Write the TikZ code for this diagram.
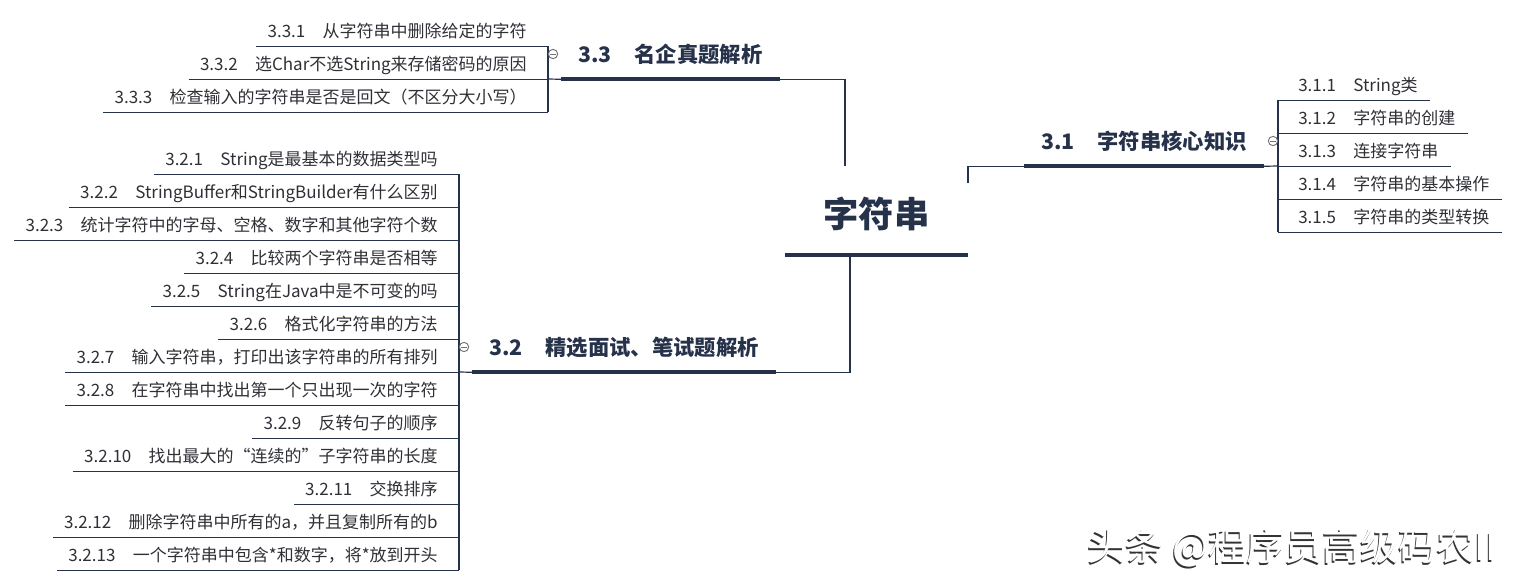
\documentclass[tikz,border=0pt]{standalone}
\usepackage{fontspec}
\setmainfont{Noto Sans CJK SC}
\usetikzlibrary{calc}
\definecolor{ln}{HTML}{26314A}
\definecolor{tx}{HTML}{2F3036}
\definecolor{hd}{HTML}{26314A}
\newcommand{\mmlab}[2]{#1\hspace{13pt}#2}
\newcommand{\mmhead}[2]{#1\hspace{17pt}#2}
\begin{document}
\begin{tikzpicture}[x=0.75pt,y=-0.75pt,
  line/.style={draw=ln,line width=0.9pt},
  bar/.style={draw=ln,line width=3pt},
  leaf/.style={font=\fontsize{12.75pt}{15pt}\selectfont,text=tx,inner xsep=8.25pt,inner ysep=4.9pt,text height=11.2pt,text depth=1.5pt},
  lleaf/.style={leaf,anchor=east},
  rleaf/.style={leaf,anchor=west,inner xsep=9pt},
  head/.style={font=\bfseries\fontsize{16pt}{19pt}\selectfont,text=hd,anchor=west,inner xsep=12.75pt,inner ysep=10.75pt,text height=14.1pt,text depth=1.9pt},
  fold/.style={circle,draw=gray!90!black,line width=0.7pt,minimum size=7pt,inner sep=0pt,
    path picture={\draw[gray!90!black,line width=0.7pt] ([xshift=-2pt]path picture bounding box.center) -- ([xshift=2pt]path picture bounding box.center);}},
  wmark/.style={font=\fontsize{28.5pt}{30pt}\selectfont},
]
\useasboundingbox (0,0) rectangle (1517,586);

% central node
\node[font=\bfseries\fontsize{26.5pt}{30pt}\selectfont,text=hd,inner xsep=0pt,inner ysep=17.1pt,
      minimum width=137.25pt,text height=23.3pt,text depth=3.2pt] (main) at (876.5,214.5) {字符串};
\draw[bar] (main.south west) -- (main.south east);

% ---- 3.1 ----
\node[head] (t31) at (1024,141) {\mmhead{3.1}{字符串核心知识}};
\draw[bar] (t31.south west) -- (t31.south east);
\coordinate (b31) at (1278,166);
\draw[line] ($(main.center)+(91.5,-31.5)$) |- (t31.south west);
\draw[line] (t31.south east) -- (b31);
\foreach \t [count=\i from 0] in {
  {\mmlab{3.1.1}{String类}},
  {\mmlab{3.1.2}{字符串的创建}},
  {\mmlab{3.1.3}{连接字符串}},
  {\mmlab{3.1.4}{字符串的基本操作}},
  {\mmlab{3.1.5}{字符串的类型转换}}} {
  \node[rleaf] (c31-\i) at (1286,{85+33*\i}) {\t};
  \draw[line] (c31-\i.south west -| b31) -- (c31-\i.south east);
}
\draw[line] (b31 |- c31-0.south) -- (b31 |- c31-4.south);
\node[fold] (f31) at ($(b31 |- t31.center)+(-5,0)$) {};

% ---- 3.3 ----
\node[head] (t33) at (561,54) {\mmhead{3.3}{名企真题解析}};
\draw[bar] (t33.south west) -- (t33.south east);
\coordinate (b33) at (548,79);
\draw[line] ($(main.center)+(-31.5,-48.5)$) |- (t33.south east);
\draw[line] (t33.south west) -- (b33);
\foreach \t [count=\i from 0] in {
  {\mmlab{3.3.1}{从字符串中删除给定的字符}},
  {\mmlab{3.3.2}{选Char不选String来存储密码的原因}},
  {\mmlab{3.3.3}{检查输入的字符串是否是回文（不区分大小写）}}} {
  \node[lleaf] (c33-\i) at (538,{31+33*\i}) {\t};
  \draw[line] (c33-\i.south west) -- (c33-\i.south west -| b33);
}
\draw[line] (b33 |- c33-0.south) -- (b33 |- c33-2.south);
\node[fold] (f33) at ($(b33 |- t33.center)+(5,0)$) {};

% ---- 3.2 ----
\node[head] (t32) at (472,347) {\mmhead{3.2}{精选面试、笔试题解析}};
\draw[bar] (t32.south west) -- (t32.south east);
\coordinate (b32) at (459,372);
\draw[line] ($(main.south)+(-26.5,0)$) |- (t32.south east);
\draw[line] (t32.south west) -- (b32);
\foreach \t [count=\i from 0] in {
  {\mmlab{3.2.1}{String是最基本的数据类型吗}},
  {\mmlab{3.2.2}{StringBuffer和StringBuilder有什么区别}},
  {\mmlab{3.2.3}{统计字符中的字母、空格、数字和其他字符个数}},
  {\mmlab{3.2.4}{比较两个字符串是否相等}},
  {\mmlab{3.2.5}{String在Java中是不可变的吗}},
  {\mmlab{3.2.6}{格式化字符串的方法}},
  {\mmlab{3.2.7}{输入字符串，打印出该字符串的所有排列}},
  {\mmlab{3.2.8}{在字符串中找出第一个只出现一次的字符}},
  {\mmlab{3.2.9}{反转句子的顺序}},
  {\mmlab{3.2.10}{找出最大的“连续的”子字符串的长度}},
  {\mmlab{3.2.11}{交换排序}},
  {\mmlab{3.2.12}{删除字符串中所有的a，并且复制所有的b}},
  {\mmlab{3.2.13}{一个字符串中包含*和数字，将*放到开头}}} {
  \node[lleaf] (c32-\i) at (449,{159+33*\i}) {\t};
  \draw[line] (c32-\i.south west) -- (c32-\i.south west -| b32);
}
\draw[line] (b32 |- c32-0.south) -- (b32 |- c32-12.south);
\node[fold] (f32) at ($(b32 |- t32.center)+(5,0)$) {};

% watermark
\node[wmark,text=black!80] (wms) at (1291,549.5) {头条 @程序员高级码农II};
\node[wmark,text=white] (wm) at (1292.3,548.2) {头条 @程序员高级码农II};
\end{tikzpicture}
\end{document}
